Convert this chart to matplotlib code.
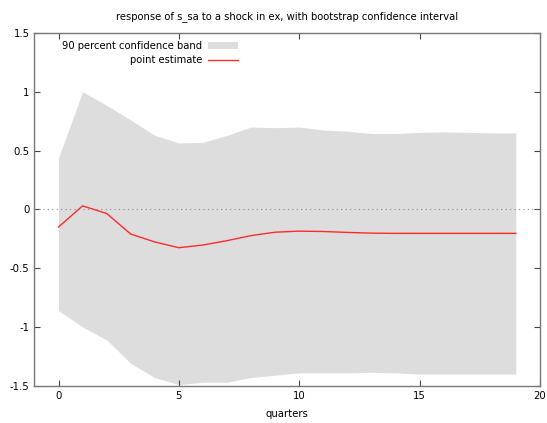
import numpy as np
import matplotlib.pyplot as plt

quarters = np.arange(20)
point_est = [-0.15, 0.03, -0.035, -0.21, -0.277, -0.326, -0.303, -0.266, -0.223, -0.194,
             -0.185, -0.188, -0.196, -0.202, -0.204, -0.204, -0.204, -0.204, -0.204, -0.204]
band_hi = [0.44, 1.0, 0.885, 0.76, 0.63, 0.565, 0.57, 0.63, 0.70, 0.695,
           0.70, 0.675, 0.665, 0.645, 0.645, 0.655, 0.66, 0.655, 0.65, 0.65]
band_lo = [-0.86, -1.0, -1.11, -1.31, -1.43, -1.49, -1.47, -1.47, -1.43, -1.41,
           -1.39, -1.39, -1.39, -1.385, -1.39, -1.40, -1.40, -1.40, -1.40, -1.40]

plt.rcParams['font.family'] = 'DejaVu Sans'
fig = plt.figure(figsize=(5.47, 4.23), dpi=100)
ax = fig.add_axes([0.063, 0.088, 0.924, 0.834])

ax.fill_between(quarters, band_lo, band_hi, color="#dddddd", lw=0,
                label="90 percent confidence band")
ax.plot(quarters, point_est, color="#ff2a2a", lw=1, label="point estimate")
ax.axhline(0, color="#888888", lw=0.8, ls=(0, (1, 3)))

ax.set_xlim(-1, 20)
ax.set_ylim(-1.5, 1.5)
ax.set_xticks([0, 5, 10, 15, 20])
ax.set_yticks([-1.5, -1, -0.5, 0, 0.5, 1, 1.5])
ax.set_yticklabels(["-1.5", "-1", "-0.5", "0", "0.5", "1", "1.5"])
ax.tick_params(direction="in", length=4, width=0.8, top=True, right=True,
               labelsize=7.3, color="#444444")
for s in ax.spines.values():
    s.set_color("#777777")
    s.set_linewidth(1)

ax.set_xlabel("quarters", fontsize=7.3, labelpad=6)
ax.set_title("response of s_sa to a shock in ex, with bootstrap confidence interval",
             fontsize=7.2, pad=10)
ax.legend(loc="upper left", bbox_to_anchor=(0.039, 1.0), frameon=False, fontsize=7.2,
          markerfirst=False, handlelength=3.0, handleheight=0.6, handletextpad=0.6,
          labelspacing=0.4, borderpad=0.3)

plt.savefig("out.png", dpi=100)
